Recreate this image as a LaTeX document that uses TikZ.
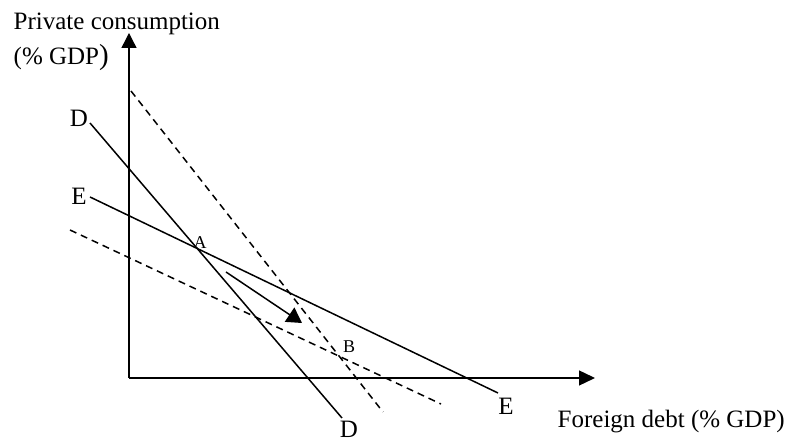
\documentclass[tikz,border=0pt]{standalone}
\usepackage{fontspec}
\setmainfont{Liberation Serif}
\usetikzlibrary{arrows.meta}
\begin{document}
\begin{tikzpicture}[x=1bp,y=1bp,line width=1.4bp,
  big/.style={font=\fontsize{25bp}{28bp}\selectfont},
  small/.style={font=\fontsize{18bp}{20bp}\selectfont,inner sep=0pt},
  schedule/.style={line width=1.5bp},
  shifted/.style={line width=1.5bp,dash pattern=on 7bp off 5bp}]
\useasboundingbox (-129,-67) rectangle (672,378);
\draw[-{Triangle[length=16bp,width=15bp]}] (0,0) -- (466,0);
\draw[-{Triangle[length=15bp,width=15bp]}] (0,0) -- (0,345);
% schedules
\draw[schedule] (-39,255) -- (213,-40);
\draw[schedule] (-39,181) -- (369,-15);
\draw[shifted] (2,287) -- (254,-34);
\draw[shifted] (-59,148) -- (312,-26);
\draw[schedule,-{Triangle[length=15bp,width=17bp]}] (97,106) -- (173,55);
\node[small] (ptA) at (71,135) {A};
\node[small] (ptB) at (220,31) {B};
\node[big] (dTop) at (-50,260) {D};
\node[big,inner sep=0pt] (dBot) at (220,-51) {D};
\node[big] (eLeft) at (-50,182) {E};
\node[big] (eRight) at (377,-28) {E};
\node[big,anchor=base west,inner sep=0pt] (ylab) at (-116,348) {Private consumption};
\node[big,anchor=base west,inner sep=0pt] (ylab2) at (-116,313) {(\% GDP{\fontsize{29bp}{30bp}\selectfont)}};
\node[big,anchor=base west,inner sep=0pt] (xlab) at (428,-50) {Foreign debt (\% GDP)};
\end{tikzpicture}
\end{document}
